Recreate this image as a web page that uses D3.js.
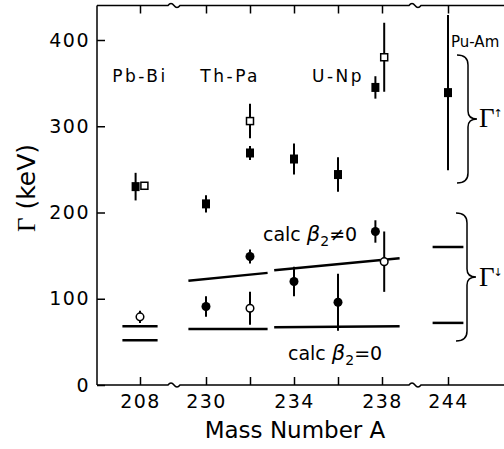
<!DOCTYPE html>
<html>
<head>
<meta charset="utf-8">
<script src="https://cdn.jsdelivr.net/npm/d3@7"></script>
<style>
  body { margin: 0; background: #fff; }
  text { font-family: "DejaVu Sans", sans-serif; fill: #000; }
</style>
</head>
<body>
<svg id="chart" width="504" height="449"></svg>
<script>
// Axis ticks
const massTicks = [208, 230, 232, 234, 236, 238, 244];
const massLabels = [208, 230, 234, 238, 244];
const gammaTicks = [0, 100, 200, 300, 400];

// Filled squares
const fullSqA = [207.8, 230, 232, 234, 236, 237.7, 244];
const fullSqG = [230, 210, 269, 262, 244, 345, 339];
const fullSqErr = [16, 10, 8, 18, 20, 13, 90];
// Open squares
const openSqA = [208.2, 232, 238.1];
const openSqG = [231, 306, 380];
const openSqErr = [0, 20, 40];
// Filled circles
const fullCircA = [230, 232, 234, 236, 237.7];
const fullCircG = [91, 149, 120, 96, 178];
const fullCircErr = [12, 8, 17, 33, 13];
// Open circles
const openCircA = [208, 232, 238.1];
const openCircG = [79, 89, 143];
const openCircErr = [7, 19, 35];

// Calculated widths: [A from, A to, Γ from, Γ to]
const calcNonZero = [[207.2, 208.8, 68, 68], [229.2, 232.8, 121, 130], [233.1, 238.8, 133, 147], [243.3, 244.7, 160, 160]];
const calcZero = [[207.2, 208.8, 52, 52], [229.2, 232.8, 65, 65], [233.1, 238.8, 67, 68], [243.3, 244.7, 72, 72]];

// Nucleus groups
const groupNames = ["Pb-Bi", "Th-Pa", "U-Np"];
const groupA = [208, 231.1, 236];

const svg = d3.select('#chart');

// broken mass axis
const x = d3.scaleLinear()
    .domain([206, 209.5, 228.5, 239.5, 242.5, 250])
    .range([96, 173, 173, 415, 415, 580]);
const y = d3.scaleLinear().domain([0, 440]).range([385, 5.5]);

const frameL = 97, frameR = 510, frameT = y(440), frameB = y(0);
const breaks = [x(209.5) + 1, x(239.5)];

// Frame line with little wiggles at the breaks
function brokenLine(yy) {
    let p = `M${frameL},${yy}`;
    breaks.forEach(b => {
        p += ` H${b - 6} q3,-4 6,0 q3,4 6,0`;
    });
    return p + ` H${frameR}`;
}

svg.append('path').attr('d', brokenLine(frameB))
    .attr('fill', 'none').attr('stroke', '#000').attr('stroke-width', 1.5);
svg.append('path').attr('d', brokenLine(frameT))
    .attr('fill', 'none').attr('stroke', '#000').attr('stroke-width', 1.5);
svg.append('line')
    .attr('x1', frameL).attr('x2', frameL).attr('y1', frameT).attr('y2', frameB)
    .attr('stroke', '#000').attr('stroke-width', 1.5);

// Bottom axis
const xAxis = svg.append('g')
    .attr('transform', `translate(0,${frameB})`)
    .call(d3.axisBottom(x).tickValues(massTicks)
        .tickSizeInner(-8).tickSizeOuter(0).tickPadding(10)
        .tickFormat(d => massLabels.includes(d) ? d : ''));
xAxis.select('.domain').remove();
xAxis.selectAll('line').attr('stroke-width', 1.5);
xAxis.selectAll('text').style('font-size', '19px').attr('letter-spacing', 1.5)
    .style('font-family', '"DejaVu Sans", sans-serif');

// Top axis
const topAxis = svg.append('g')
    .attr('transform', `translate(0,${frameT})`)
    .call(d3.axisTop(x).tickValues(massTicks)
        .tickSizeInner(-8).tickSizeOuter(0).tickFormat(''));
topAxis.select('.domain').remove();
topAxis.selectAll('line').attr('stroke-width', 1.5);

// Left axis
const yAxis = svg.append('g')
    .attr('transform', `translate(${frameL},0)`)
    .call(d3.axisLeft(y).tickValues(gammaTicks)
        .tickSizeInner(-8).tickSizeOuter(0).tickPadding(7));
yAxis.select('.domain').remove();
yAxis.selectAll('line').attr('stroke-width', 1.5);
yAxis.selectAll('text').style('font-size', '19px').attr('letter-spacing', 1.5)
    .style('font-family', '"DejaVu Sans", sans-serif');

// Axis titles
svg.append('text')
    .attr('x', 295).attr('y', 438)
    .attr('text-anchor', 'middle')
    .style('font-size', '23px')
    .text('Mass Number A');

const yTitle = svg.append('text')
    .attr('transform', 'translate(35,188) rotate(-90)')
    .attr('text-anchor', 'middle')
    .style('font-size', '25px');
yTitle.append('tspan').style('font-family', '"Liberation Serif", serif').text('Γ');
yTitle.append('tspan').text(' (keV)');

// Calculated lines
function drawCalc(segs) {
    svg.selectAll(null)
        .data(segs)
        .enter()
        .append('line')
        .attr('x1', d => x(d[0])).attr('x2', d => x(d[1]))
        .attr('y1', d => y(d[2])).attr('y2', d => y(d[3]))
        .attr('stroke', '#000').attr('stroke-width', 2.5);
}
drawCalc(calcNonZero);
drawCalc(calcZero);

// Error bars
function drawErr(as, gs, errs) {
    svg.selectAll(null)
        .data(as.map((a, i) => ({ a, g: gs[i], e: errs[i] })).filter(d => d.e > 0))
        .enter()
        .append('line')
        .attr('x1', d => x(d.a)).attr('x2', d => x(d.a))
        .attr('y1', d => y(d.g + d.e)).attr('y2', d => y(d.g - d.e))
        .attr('stroke', '#000').attr('stroke-width', 2);
}
drawErr(fullSqA, fullSqG, fullSqErr);
drawErr(openSqA, openSqG, openSqErr);
drawErr(fullCircA, fullCircG, fullCircErr);
drawErr(openCircA, openCircG, openCircErr);

// Markers
svg.selectAll(null)
    .data(fullSqA.map((a, i) => ({ a, g: fullSqG[i] })))
    .enter().append('rect')
    .attr('x', d => x(d.a) - 4).attr('y', d => y(d.g) - 4.5)
    .attr('width', 8).attr('height', 9)
    .attr('fill', '#000');

svg.selectAll(null)
    .data(openSqA.map((a, i) => ({ a, g: openSqG[i] })))
    .enter().append('rect')
    .attr('x', d => x(d.a) - 3.5).attr('y', d => y(d.g) - 3.5)
    .attr('width', 7).attr('height', 7)
    .attr('fill', '#fff').attr('stroke', '#000').attr('stroke-width', 1.5);

svg.selectAll(null)
    .data(fullCircA.map((a, i) => ({ a, g: fullCircG[i] })))
    .enter().append('circle')
    .attr('cx', d => x(d.a)).attr('cy', d => y(d.g))
    .attr('r', 4.5).attr('fill', '#000');

svg.selectAll(null)
    .data(openCircA.map((a, i) => ({ a, g: openCircG[i] })))
    .enter().append('circle')
    .attr('cx', d => x(d.a)).attr('cy', d => y(d.g))
    .attr('r', 3.8)
    .attr('fill', '#fff').attr('stroke', '#000').attr('stroke-width', 1.5);

// Group labels
svg.selectAll(null)
    .data(groupNames)
    .enter().append('text')
    .attr('x', (d, i) => x(groupA[i])).attr('y', 82)
    .attr('text-anchor', 'middle')
    .attr('letter-spacing', 2.5)
    .style('font-size', '17px')
    .text(d => d);

svg.append('text')
    .attr('x', 451).attr('y', 47)
    .style('font-size', '15px')
    .text('Pu-Am');

// calc labels
function calcLabel(xx, yy, rel) {
    const t = svg.append('text').attr('x', xx).attr('y', yy).style('font-size', '19px');
    t.append('tspan').text('calc ');
    t.append('tspan').style('font-style', 'italic').style('font-size', '21px').text('β');
    t.append('tspan').attr('dy', 5).style('font-size', '14px').text('2');
    t.append('tspan').attr('dy', -5).text(rel + '0');
}
calcLabel(263, 241, '≠');
calcLabel(288, 360, '=');

// Braces
function brace(xs, y0, y1) {
    const ym = (y0 + y1) / 2, xh = xs - 11, xt = xs + 9;
    return `M${xh},${y0} Q${xs},${y0} ${xs},${y0 + 10} L${xs},${ym - 8} ` +
        `Q${xs},${ym} ${xt},${ym} Q${xs},${ym} ${xs},${ym + 8} ` +
        `L${xs},${y1 - 10} Q${xs},${y1} ${xh},${y1}`;
}
svg.append('path').attr('d', brace(468, 55, 183))
    .attr('fill', 'none').attr('stroke', '#000').attr('stroke-width', 1.5);
svg.append('path').attr('d', brace(467, 213, 341))
    .attr('fill', 'none').attr('stroke', '#000').attr('stroke-width', 1.5);

function gammaLabel(yy, arrow) {
    const t = svg.append('text').attr('x', 479).attr('y', yy)
        .style('font-family', '"Liberation Serif", serif').style('font-size', '27px');
    t.append('tspan').text('Γ');
    t.append('tspan').attr('dy', -10).attr('dx', -1).style('font-size', '11px')
        .style('font-family', '"DejaVu Sans", sans-serif').text(arrow);
}
gammaLabel(127, '↑');
gammaLabel(286, '↓');
</script>
</body>
</html>
